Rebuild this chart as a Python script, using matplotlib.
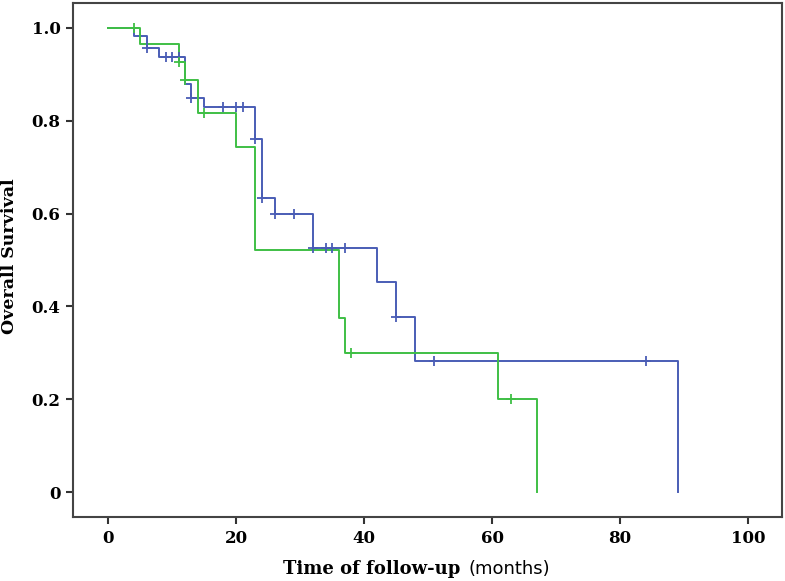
import numpy as np
import matplotlib
matplotlib.use("Agg")
import matplotlib.pyplot as plt

# step curves (time in months, survival after the step)
blue_t = [0, 4, 6, 8, 12, 13, 15, 23, 24, 26, 32, 42, 45, 48, 89]
blue_s = [1.0, 0.982, 0.957, 0.937, 0.88, 0.849, 0.83, 0.761, 0.634, 0.60,
          0.526, 0.452, 0.377, 0.282, 0.0]
blue_cens = [6, 9, 10, 11, 13, 18, 20, 21, 23, 24, 26, 29, 32, 34, 35, 37, 45, 51, 84]

green_t = [0, 5, 11, 12, 14, 20, 23, 36, 37, 61, 67]
green_s = [1.0, 0.965, 0.927, 0.888, 0.817, 0.744, 0.521, 0.375, 0.30, 0.20, 0.0]
green_cens = [4, 11, 12, 15, 38, 63]

xticks = [0, 20, 40, 60, 80, 100]
yticks = [0, 0.2, 0.4, 0.6, 0.8, 1.0]
ytick_labels = ["0", "0.2", "0.4", "0.6", "0.8", "1.0"]

BLUE = "#4a5db5"
GREEN = "#3fbf45"
SERIF = ["DejaVu Serif"]

fig = plt.figure(figsize=(7.85, 5.81), dpi=100)
ax = fig.add_axes([0.093, 0.110, 0.903, 0.885])


def surv_at(t, times, surv):
    i = np.searchsorted(times, t, side="right") - 1
    return np.asarray(surv)[i]


curves = [(blue_t, blue_s, blue_cens, BLUE), (green_t, green_s, green_cens, GREEN)]
for times, surv, cens, col in curves:
    ax.step(times, surv, where="post", color=col, lw=1.4)
for times, surv, cens, col in curves:
    ax.plot(cens, surv_at(cens, times, surv), ls="none", marker="+",
            ms=7, mew=1.3, color=col)

ax.set_xlim(-5.5, 105.3)
ax.set_ylim(-0.054, 1.054)
ax.set_xticks(xticks)
ax.set_yticks(yticks)
ax.set_yticklabels(ytick_labels)
for lab in ax.get_xticklabels() + ax.get_yticklabels():
    lab.set_family(SERIF)
    lab.set_fontweight("bold")
    lab.set_fontsize(12)
ax.tick_params(direction="out", length=5, width=1.5, color="#333333", pad=4)
for sp in ax.spines.values():
    sp.set_color("#444444")
    sp.set_linewidth(1.5)

fig.text(0.012, 0.559, "Overall Survival", rotation=90, ha="center", va="center",
         family=SERIF, fontweight="bold", fontsize=12.5)
fig.text(0.587, 0.012, "Time of follow-up", ha="right", va="baseline",
         family=SERIF, fontweight="bold", fontsize=13)
fig.text(0.597, 0.012, "(months)", ha="left", va="baseline",
         family=["DejaVu Sans"], fontsize=13)

fig.savefig("out.png", dpi=100)
